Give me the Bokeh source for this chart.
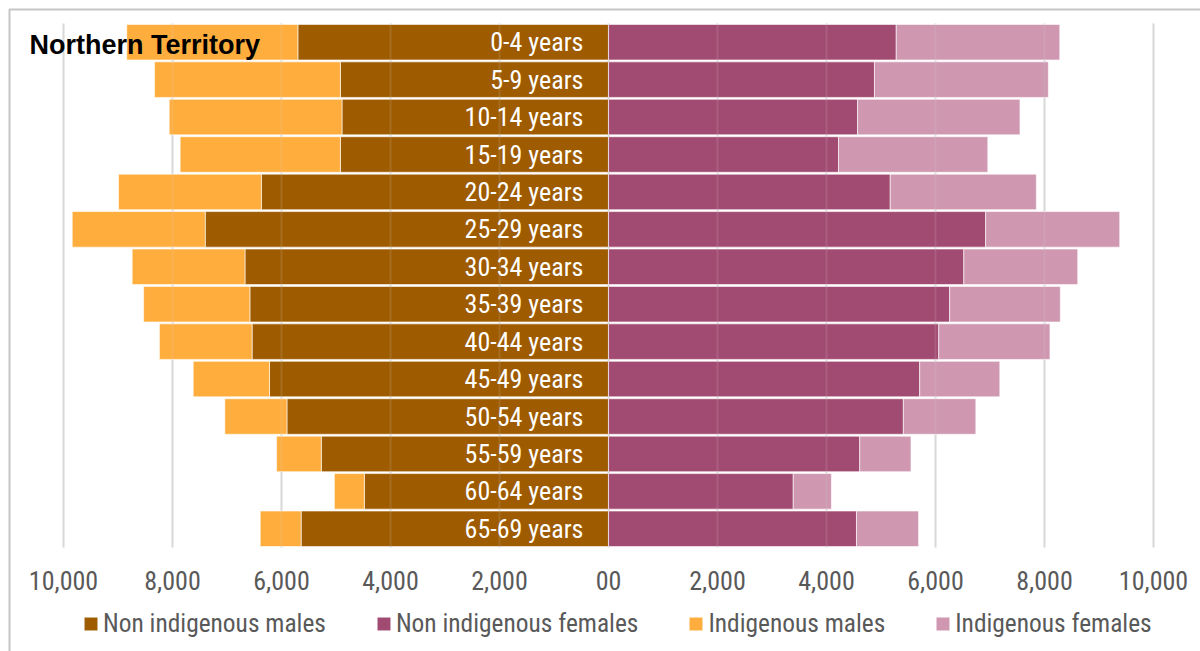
import numpy as np
from bokeh.plotting import figure
from bokeh.models import (ColumnDataSource, Range1d, Legend, LegendItem, Label,
                          BoxAnnotation)
from bokeh.core.properties import value
from bokeh.embed import file_html
from bokeh.resources import INLINE

# ---------------- data ----------------
ages = ["0-4 years", "5-9 years", "10-14 years", "15-19 years", "20-24 years",
        "25-29 years", "30-34 years", "35-39 years", "40-44 years", "45-49 years",
        "50-54 years", "55-59 years", "60-64 years", "65-69 years"]
nonind_males = [5700, 4920, 4890, 4920, 6370, 7400, 6670, 6580, 6540, 6220, 5900, 5270, 4480, 5640]
ind_males = [3140, 3410, 3170, 2940, 2620, 2440, 2070, 1950, 1700, 1400, 1140, 820, 550, 750]
nonind_females = [5280, 4880, 4570, 4220, 5170, 6920, 6520, 6260, 6060, 5710, 5410, 4610, 3390, 4550]
ind_females = [3000, 3190, 2980, 2740, 2680, 2460, 2090, 2030, 2040, 1470, 1330, 940, 700, 1140]
tick_values = [-10000, -8000, -6000, -4000, -2000, 0, 2000, 4000, 6000, 8000, 10000]
tick_labels = ["10,000", "8,000", "6,000", "4,000", "2,000", "00",
               "2,000", "4,000", "6,000", "8,000", "10,000"]
series_names = ["Non indigenous males", "Non indigenous females",
                "Indigenous males", "Indigenous females"]
title_text = "Northern Territory"

# ---------------- styling ----------------
FONT = "'Roboto Condensed', 'Liberation Sans Narrow', 'DejaVu Sans Condensed'"
FS = "26px"
C_NM = "#9E5B00"
C_NF = "#A24B72"
C_IM = "#FFAD3C"
C_IF = "#CF97B0"
GRAY = "#595959"
GRID = "#D9D9D9"

W, H = 1200, 651
n = len(ages)
pos = np.arange(n, dtype=float)          # row index, top to bottom

nm = np.array(nonind_males, dtype=float)
im = np.array(ind_males, dtype=float)
nf = np.array(nonind_females, dtype=float)
fi = np.array(ind_females, dtype=float)

src = ColumnDataSource(dict(
    age=ages, y=pos,
    nm_left=-nm, nm_right=np.zeros_like(nm),
    im_left=-(nm + im), im_right=-nm,
    nf_left=np.zeros_like(nf), nf_right=nf,
    if_left=nf, if_right=nf + fi,
    lab_x=np.full(n, -460.0),
))
tsrc = ColumnDataSource(dict(
    x=tick_values, label=tick_labels,
    y0=np.full(len(tick_values), -0.5), y1=np.full(len(tick_values), n - 0.5),
    ly=np.full(len(tick_values), n + 0.38),
))

# ranges: full canvas is the plotting frame
x0_px, x1_px = 63.0, 1153.0              # pixel positions of -10000 and 10000
kx = (x1_px - x0_px) / 20000.0
x_start = -10000 - x0_px / kx
x_end = x_start + W / kx
top_px, bot_px = 23.0, 547.0             # pixel extent of the bar rows
ky = (bot_px - top_px) / n
y_top = -0.5 - top_px / ky
y_bottom = y_top + H / ky

p = figure(width=W, height=H,
           x_range=Range1d(x_start, x_end),
           y_range=Range1d(y_bottom, y_top),
           output_backend="svg", toolbar_location=None,
           min_border=0, x_axis_location=None, y_axis_location=None)
p.outline_line_color = None
p.xgrid.visible = False
p.ygrid.visible = False
p.background_fill_color = "white"
p.border_fill_color = "white"

# vertical gridlines (under the bars)
p.segment(x0="x", x1="x", y0="y0", y1="y1", source=tsrc,
          line_color=GRID, line_width=2)

bar_kw = dict(source=src, y="y", height=0.95, line_color="white",
              line_width=1, line_alpha=0.6)
r_nm = p.hbar(left="nm_left", right="nm_right", fill_color=C_NM, **bar_kw)
r_im = p.hbar(left="im_left", right="im_right", fill_color=C_IM, **bar_kw)
r_nf = p.hbar(left="nf_left", right="nf_right", fill_color=C_NF, **bar_kw)
r_if = p.hbar(left="if_left", right="if_right", fill_color=C_IF, **bar_kw)

# faint gridlines showing through the bars
p.segment(x0="x", x1="x", y0="y0", y1="y1", source=tsrc,
          line_color=GRID, line_width=2, line_alpha=0.14)

# age labels
p.text(x="lab_x", y="y", text="age", source=src, text_color="white",
       text_font=value(FONT), text_font_size=FS,
       text_align="right", text_baseline="middle")

# x tick labels
p.text(x="x", y="ly", text="label", source=tsrc, text_color=GRAY,
       text_font=value(FONT), text_font_size=FS,
       text_align="center", text_baseline="middle")

# title inside chart
p.add_layout(Label(x=x_start + 29 / kx, y=0, y_offset=-3, text=title_text,
                   text_font="Liberation Sans", text_font_style="bold",
                   text_font_size="27px", text_color="black",
                   text_baseline="middle", text_align="left"))

# legend
legend = Legend(items=[LegendItem(label=series_names[0], renderers=[r_nm]),
                       LegendItem(label=series_names[1], renderers=[r_nf]),
                       LegendItem(label=series_names[2], renderers=[r_im]),
                       LegendItem(label=series_names[3], renderers=[r_if])],
                orientation="horizontal", location=(82, 13),
                glyph_width=17, glyph_height=17, label_standoff=4, spacing=49,
                label_text_font=FONT, label_text_font_size="25.4px",
                label_text_color=GRAY, padding=0, margin=0,
                border_line_color=None, background_fill_alpha=0)
p.add_layout(legend)

# outer frame (only its left and top edges fall inside the picture)
p.add_layout(BoxAnnotation(left=x_start + 9 / kx, right=x_end + 5000,
                           top=y_top + 9 / ky, bottom=y_bottom + 5,
                           fill_alpha=0, line_color="#404040", line_width=2))

open("out.html", "w").write(file_html(p, INLINE))
